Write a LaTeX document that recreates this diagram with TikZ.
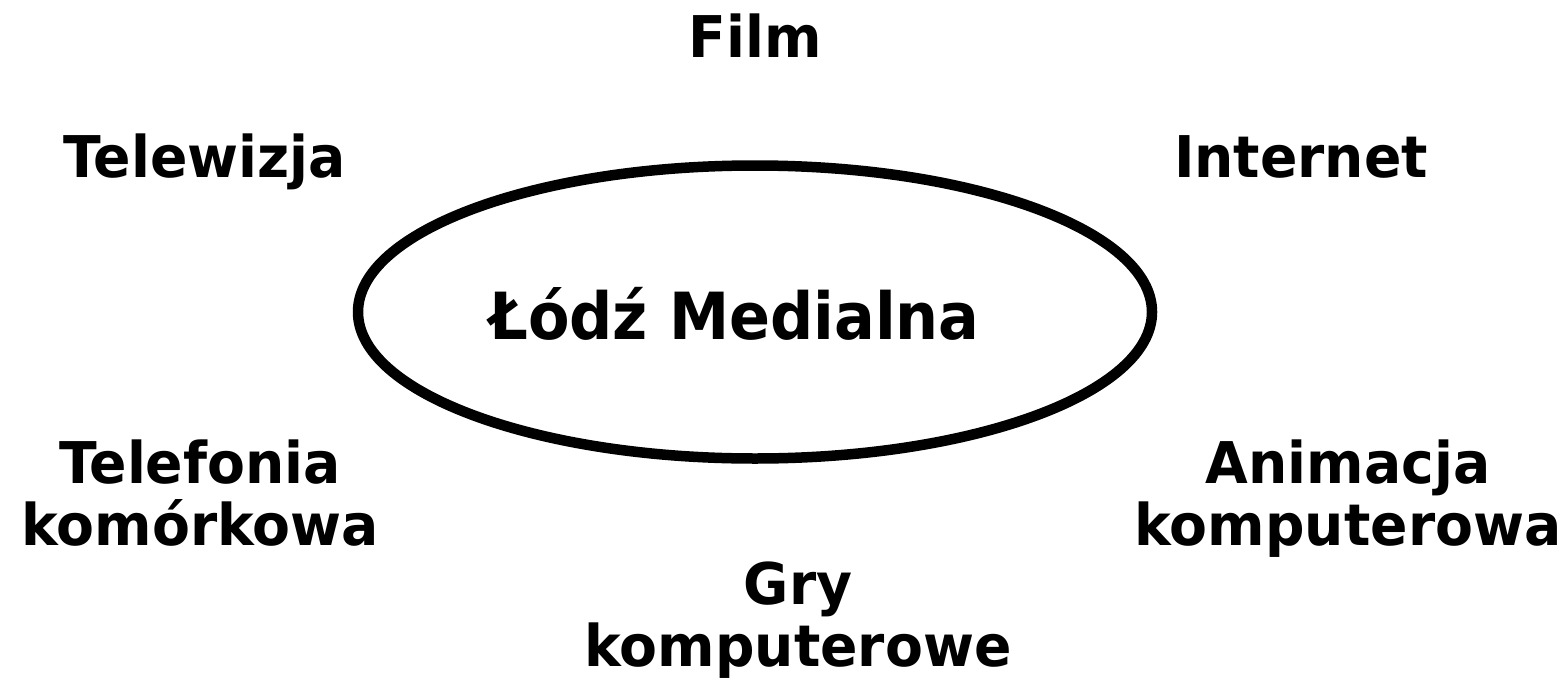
\documentclass[tikz,border=0pt]{standalone}
\usepackage{fontspec}
\newfontfamily\labfont[FakeStretch=0.96]{DejaVu Sans Bold}
\newfontfamily\mainfont[FakeStretch=0.93]{DejaVu Sans Bold}
\begin{document}
\begin{tikzpicture}[x=1pt,y=-1pt,
  lab/.style={inner sep=0pt,align=center,anchor=base,font=\labfont\fontsize{57.5}{62}\selectfont},
  title/.style={inner sep=0pt,anchor=base,font=\mainfont\fontsize{65}{70}\selectfont},
  ring/.style={line width=10.5pt,draw=black}]
\useasboundingbox (0,0) rectangle (1568,680);
\draw[ring] (755,312) ellipse [x radius=397, y radius=146.5];
\node[title] (center) at (734.5,339) {Łódź Medialna};
\node[lab] (film) at (755,57) {Film};
\node[lab] (tv) at (204.5,177) {Telewizja};
\node[lab] (net) at (1301,177) {Internet};
\node[lab] (tel) at (200,545) {Telefonia\\komórkowa};
\node[lab] (anim) at (1348,545) {Animacja\\komputerowa};
\node[lab] (gry) at (798,666) {Gry\\komputerowe};
\end{tikzpicture}
\end{document}
